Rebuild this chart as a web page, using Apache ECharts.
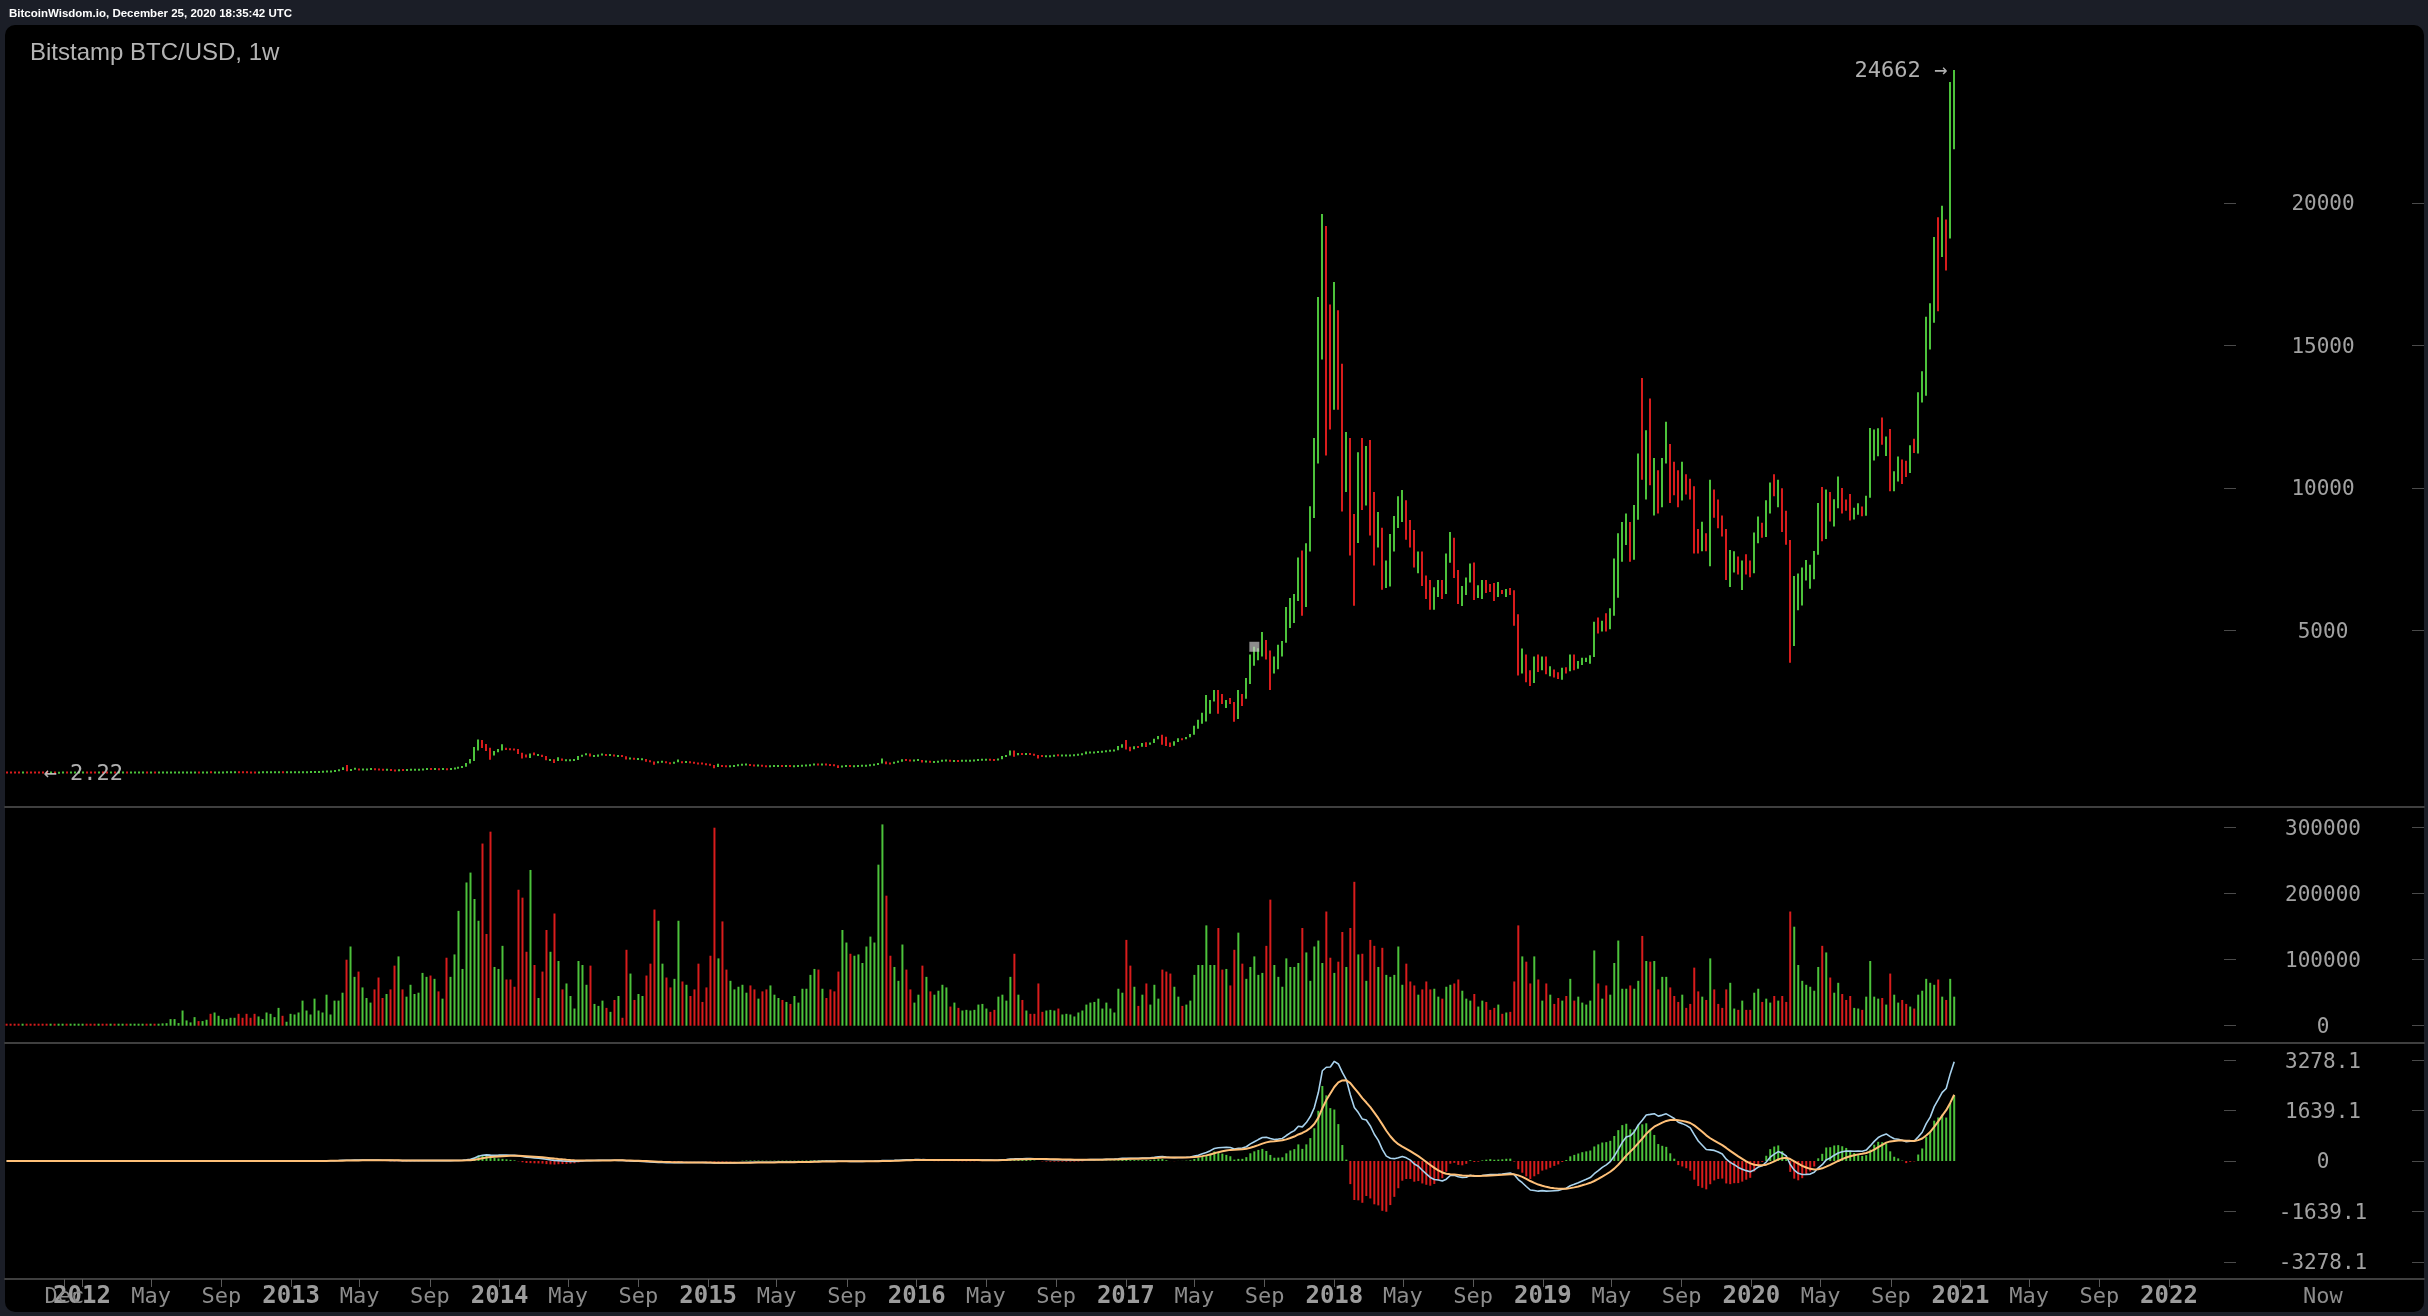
<!DOCTYPE html>
<html><head><meta charset="utf-8">
<style>html,body{margin:0;padding:0;background:#1b1e27;overflow:hidden}#chart{width:2428px;height:1316px}</style>
<script src="https://cdn.jsdelivr.net/npm/echarts@6.0.0/dist/echarts.min.js"></script>
</head><body><div id="chart"></div>
<script>
// ---------------- DATA (weekly candles, Bitstamp BTC/USD, week starts Monday) ----------------
const FIRST_WEEK = Date.UTC(2011, 7, 22);   // first candle: week of 2011-08-22
const FIRST_OPEN = 10.9;                    // open of the first candle; later opens = previous close

const close2011 = [8.6, 8.2, 6.9, 5.2, 5.4, 5.1, 4.7, 4.0, 3.3, 3.2, 3.0, 3.0, 2.4, 2.5, 3.1, 3.0, 3.2, 3.9, 5.2];
const high2011  = [11.4, 9.2, 8.3, 6.9, 6.0, 5.6, 5.2, 4.8, 4.1, 3.6, 3.6, 3.2, 3.0, 2.6, 3.2, 3.3, 3.3, 4.1, 5.3];
const low2011   = [7.3, 7.5, 6.5, 4.8, 4.9, 4.6, 4.4, 3.6, 2.22, 2.7, 2.9, 2.8, 2.3, 2.3, 2.5, 2.8, 3.0, 3.1, 3.8];
const vol2011   = [1.5, 1.2, 1.4, 1.8, 1.3, 1.1, 1.0, 1.3, 1.9, 1.5, 1.2, 1.0, 1.4, 1.2, 1.3, 1.1, 1.0, 1.4, 1.8];

const close2012 = [6.8, 6.4, 6.3, 5.6, 5.9, 5.6, 4.4, 5.0, 4.9, 4.9, 5.3, 4.7, 4.9, 4.9, 4.9, 5.2, 5.0, 5.1, 5.0, 5.1, 5.1, 5.2, 5.5, 6.4, 6.5, 6.7, 6.8, 7.6, 8.9, 8.7, 10.9, 11.4, 8.8, 10.5, 10.6, 11.0, 11.7, 12.3, 12.4, 12.0, 11.9, 11.8, 11.0, 10.8, 10.9, 11.5, 12.3, 12.5, 13.4, 13.6, 13.4, 13.4, 13.5];
const high2012  = [7.2, 7.0, 7.0, 6.4, 6.2, 6.0, 5.6, 5.1, 5.0, 5.1, 5.4, 5.3, 4.9, 5.0, 5.0, 5.3, 5.2, 5.2, 5.1, 5.2, 5.2, 5.3, 5.6, 6.5, 6.8, 6.8, 7.0, 7.8, 9.2, 9.2, 11.0, 11.9, 15.4, 10.9, 11.0, 11.2, 11.9, 12.9, 12.6, 12.9, 12.2, 12.0, 11.9, 11.2, 11.0, 11.9, 12.4, 12.9, 13.6, 13.8, 13.6, 13.6, 13.8];
const low2012   = [5.0, 6.0, 5.8, 5.4, 5.5, 5.4, 4.0, 4.3, 4.7, 4.8, 4.8, 4.6, 4.7, 4.8, 4.8, 4.9, 4.9, 5.0, 4.9, 5.0, 5.0, 5.1, 5.2, 5.5, 6.2, 6.3, 6.5, 6.8, 7.5, 8.2, 8.7, 10.7, 7.9, 8.5, 10.0, 10.4, 10.9, 11.5, 12.0, 11.8, 11.3, 11.6, 10.6, 10.5, 10.6, 10.8, 11.5, 12.2, 12.4, 13.3, 13.2, 13.2, 13.2];
const vol2012   = [1.5, 1.8, 1.6, 1.5, 1.4, 1.6, 2.4, 1.9, 1.7, 1.5, 1.6, 1.8, 1.5, 1.7, 2.0, 2.2, 2.5, 2.3, 2.8, 3.0, 3.5, 3.8, 10, 10, 4, 23, 8, 5, 13, 7, 7, 9, 18, 20, 15, 10, 10, 12, 12, 18, 12, 18, 12, 18, 14, 10, 20, 18, 13, 27, 15, 6, 18];

const close2013 = [14.1, 15.4, 17.2, 20.4, 23.6, 26.8, 30.4, 34.5, 46.0, 46.9, 70, 93, 162, 90, 119, 136, 114, 117, 122, 129, 122, 109, 100, 104, 90, 76, 97, 91, 96, 105, 106, 106, 121, 129, 124, 127, 123, 127, 123, 128, 149, 187, 211, 334, 418, 790, 1120, 960, 875, 625, 735, 780];
const high2013  = [14.3, 15.9, 17.8, 20.8, 24.0, 27.5, 30.5, 34.9, 48.0, 48.4, 74, 96, 194, 266, 128, 165, 139, 125, 125, 134, 133, 124, 111, 111, 106, 91, 99, 98, 98, 107, 108, 110, 123, 135, 135, 129, 129, 132, 138, 131, 160, 200, 215, 340, 478, 900, 1163, 1150, 1010, 880, 760, 830];
const low2013   = [13.3, 14.0, 15.2, 17.0, 20.2, 23.4, 26.5, 29.0, 34.0, 37.0, 46, 71, 93, 50, 62, 115, 79, 107, 108, 119, 114, 99, 95, 97, 87, 65, 69, 86, 88, 95, 100, 97, 106, 117, 118, 122, 121, 122, 110, 122, 128, 148, 180, 210, 322, 410, 780, 870, 760, 455, 600, 720];
const vol2013   = [17, 20, 38, 23, 17, 41, 23, 20, 47, 17, 38, 38, 50, 100, 120, 74, 82, 58, 42, 35, 55, 73, 42, 48, 55, 91, 105, 55, 44, 62, 48, 50, 80, 74, 76, 71, 52, 41, 103, 74, 108, 174, 86, 217, 232, 192, 159, 276, 139, 294, 89, 86];

const close2014 = [840, 830, 820, 810, 680, 620, 580, 660, 630, 630, 580, 450, 450, 420, 490, 440, 440, 440, 445, 580, 630, 650, 590, 600, 630, 630, 620, 620, 590, 590, 580, 500, 510, 480, 480, 480, 400, 380, 330, 360, 390, 350, 330, 370, 380, 375, 378, 350, 345, 320, 318, 280];
const high2014  = [1000, 880, 850, 840, 830, 700, 640, 670, 710, 650, 630, 590, 480, 470, 540, 500, 460, 450, 460, 590, 630, 670, 670, 610, 640, 650, 640, 630, 625, 600, 595, 580, 530, 515, 490, 490, 480, 440, 390, 400, 400, 395, 360, 380, 460, 395, 385, 385, 360, 345, 335, 320];
const low2014   = [780, 800, 790, 780, 660, 500, 530, 520, 610, 600, 550, 440, 420, 340, 410, 420, 420, 420, 430, 445, 560, 620, 570, 560, 560, 620, 610, 610, 580, 570, 575, 460, 470, 470, 470, 460, 380, 370, 280, 330, 370, 345, 310, 320, 370, 345, 360, 345, 340, 300, 310, 270];
const vol2014   = [121, 70, 70, 59, 206, 194, 112, 236, 92, 42, 82, 145, 112, 170, 98, 55, 64, 45, 26, 98, 92, 62, 91, 33, 30, 38, 27, 21, 39, 45, 12, 115, 79, 39, 48, 45, 76, 94, 176, 159, 94, 73, 58, 71, 159, 67, 62, 45, 55, 94, 36, 58];

const close2015 = [265, 205, 255, 225, 220, 235, 240, 260, 285, 285, 260, 245, 255, 225, 222, 225, 240, 240, 236, 238, 225, 230, 235, 245, 255, 270, 290, 275, 290, 285, 265, 258, 230, 230, 240, 230, 230, 235, 240, 245, 265, 285, 325, 380, 330, 325, 360, 390, 460, 440, 420, 430];
const high2015  = [300, 270, 310, 265, 245, 240, 245, 285, 300, 298, 290, 272, 265, 260, 230, 238, 245, 245, 245, 242, 240, 232, 238, 255, 260, 275, 305, 300, 298, 295, 285, 270, 260, 235, 245, 245, 236, 238, 245, 250, 270, 290, 335, 500, 390, 340, 375, 420, 470, 470, 450, 440];
const low2015   = [260, 152, 200, 210, 210, 215, 230, 235, 260, 280, 255, 235, 240, 220, 215, 220, 220, 230, 232, 232, 222, 220, 226, 230, 240, 250, 265, 270, 270, 280, 260, 255, 162, 200, 225, 225, 225, 225, 235, 240, 245, 265, 280, 320, 300, 310, 315, 355, 385, 430, 410, 410];
const vol2015   = [106, 300, 102, 158, 85, 68, 55, 59, 62, 50, 61, 55, 41, 52, 55, 61, 47, 42, 39, 36, 33, 45, 35, 56, 56, 77, 86, 85, 56, 42, 55, 52, 82, 145, 126, 109, 106, 108, 95, 120, 135, 126, 244, 305, 197, 106, 89, 68, 123, 85, 55, 35];

const close2016 = [450, 380, 400, 375, 375, 400, 435, 435, 415, 415, 410, 415, 420, 420, 430, 450, 450, 460, 455, 440, 475, 580, 610, 760, 640, 670, 650, 665, 655, 620, 590, 570, 580, 580, 610, 605, 605, 605, 610, 615, 640, 655, 700, 705, 705, 730, 735, 765, 775, 790, 890, 1000];
const high2016  = [460, 450, 410, 400, 385, 405, 445, 440, 440, 420, 420, 420, 425, 425, 435, 460, 470, 465, 460, 460, 480, 590, 620, 780, 780, 690, 690, 670, 670, 660, 620, 600, 590, 590, 615, 630, 610, 610, 612, 620, 645, 660, 740, 740, 730, 750, 745, 775, 780, 795, 935, 1000];
const low2016   = [425, 360, 370, 365, 365, 370, 400, 415, 400, 405, 405, 410, 410, 415, 420, 425, 445, 445, 445, 435, 440, 470, 560, 600, 560, 610, 630, 640, 640, 600, 500, 565, 565, 570, 570, 600, 600, 590, 600, 605, 610, 630, 650, 680, 690, 700, 720, 730, 755, 765, 790, 880];
const vol2016   = [47, 91, 74, 52, 47, 53, 62, 58, 29, 35, 27, 23, 24, 23, 24, 32, 33, 26, 21, 24, 44, 47, 38, 74, 109, 47, 39, 23, 18, 18, 64, 21, 23, 24, 23, 26, 17, 18, 17, 14, 20, 23, 32, 35, 36, 41, 26, 35, 26, 20, 56, 50];

const close2017 = [905, 830, 920, 915, 1010, 995, 1050, 1180, 1250, 1230, 970, 960, 1090, 1180, 1175, 1240, 1330, 1630, 1720, 2050, 2150, 2500, 2880, 2500, 2450, 2500, 2480, 1950, 2750, 2730, 3230, 4050, 4100, 4350, 4600, 4150, 3700, 3780, 4400, 4600, 5700, 6000, 6140, 7400, 5850, 8000, 9250, 11200, 14700, 19100, 14000, 13400];
const high2017  = [1150, 910, 930, 925, 1040, 1070, 1060, 1190, 1290, 1330, 1260, 1060, 1100, 1210, 1200, 1250, 1360, 1650, 1860, 2100, 2725, 2550, 2900, 2900, 2760, 2550, 2620, 2480, 2900, 2760, 3320, 4150, 4420, 4370, 4940, 4660, 4290, 4080, 4495, 4620, 5815, 6130, 6270, 7550, 7800, 8050, 9350, 11750, 16700, 19613, 19190, 16430];
const low2017   = [810, 750, 820, 880, 910, 900, 980, 1040, 1170, 980, 940, 900, 950, 1080, 1150, 1170, 1240, 1330, 1540, 1720, 1800, 2065, 2500, 2065, 2410, 2275, 2410, 1790, 1885, 2345, 2595, 3115, 3755, 3950, 4080, 3970, 2900, 3480, 3635, 4080, 4565, 5075, 5255, 6025, 5510, 5815, 7760, 8940, 10850, 14500, 11130, 12045];
const vol2017   = [130, 91, 59, 30, 47, 64, 32, 62, 41, 85, 82, 79, 59, 44, 30, 32, 38, 77, 92, 92, 152, 92, 92, 148, 85, 86, 61, 115, 141, 94, 71, 89, 105, 77, 80, 121, 191, 92, 74, 59, 102, 89, 89, 95, 148, 111, 68, 120, 129, 95, 173, 103];

const close2018 = [16100, 13650, 11500, 11700, 8200, 8100, 10380, 9600, 11450, 9550, 8200, 8500, 6900, 7030, 8350, 8900, 9400, 9650, 8700, 8240, 7350, 7700, 6750, 6500, 6150, 6390, 6750, 6350, 7400, 8200, 7040, 6300, 6400, 6720, 7290, 6220, 6490, 6700, 6600, 6580, 6290, 6400, 6380, 6430, 6350, 5550, 4000, 4150, 3550, 3200, 3950, 3750];
const high2018  = [17220, 16230, 14350, 11960, 11750, 9080, 11250, 11750, 11470, 11680, 9850, 9150, 8600, 7450, 8380, 9010, 9700, 9920, 9560, 8870, 8520, 7760, 7760, 6925, 6760, 6510, 6760, 6760, 7690, 8445, 8245, 7115, 6550, 6855, 7340, 7380, 6580, 6760, 6760, 6620, 6655, 6690, 6410, 6445, 6480, 6400, 5560, 4355, 4150, 3600, 4080, 4150];
const low2018   = [12740, 12740, 9170, 9850, 7620, 5860, 8060, 9220, 9380, 8325, 7270, 7900, 6425, 6480, 6535, 7760, 8590, 8800, 8175, 7900, 7200, 7000, 6550, 6095, 5720, 5720, 6165, 6095, 6270, 7365, 6835, 5925, 5855, 6235, 6675, 6060, 6130, 6095, 6305, 6340, 6025, 6165, 6270, 6165, 6235, 5160, 3415, 3480, 3175, 3045, 3150, 3535];
const vol2018   = [80, 97, 142, 89, 148, 218, 108, 109, 68, 130, 121, 89, 118, 77, 74, 77, 120, 62, 94, 67, 61, 47, 55, 67, 55, 56, 44, 41, 59, 62, 64, 70, 53, 41, 38, 48, 29, 38, 36, 24, 27, 32, 18, 20, 21, 67, 152, 105, 97, 64, 105, 70];

const close2019 = [4040, 3510, 3540, 3530, 3410, 3630, 3600, 4100, 3820, 3900, 3990, 4000, 4100, 5050, 5030, 5300, 5280, 5750, 6990, 8000, 8750, 8770, 7650, 8980, 10700, 10600, 11400, 10200, 10500, 9500, 10900, 11300, 10200, 10150, 9600, 10400, 10300, 10000, 8200, 7900, 8300, 7960, 9250, 9200, 8800, 8500, 7050, 7400, 7500, 7100, 7200, 7180];
const high2019  = [4080, 4080, 3740, 3620, 3530, 3680, 3700, 4150, 4150, 3920, 4035, 4035, 4120, 5300, 5450, 5330, 5600, 5775, 7520, 8405, 8800, 9100, 8800, 9400, 11200, 13855, 12020, 13130, 11045, 10620, 11045, 12320, 11540, 10915, 10620, 10915, 10475, 10320, 10050, 8555, 8805, 8405, 10280, 9940, 9585, 9025, 8550, 7815, 7770, 7590, 7445, 7665];
const low2019   = [3600, 3455, 3385, 3345, 3290, 3265, 3480, 3560, 3600, 3650, 3780, 3885, 3825, 4060, 4890, 4960, 4960, 5035, 5510, 6145, 7400, 7990, 7400, 7475, 8880, 10280, 9585, 10090, 9025, 9100, 9320, 10850, 9465, 9735, 9320, 9550, 9765, 9585, 7695, 7695, 7770, 7770, 7250, 8950, 8580, 8290, 6765, 6515, 7030, 6955, 6415, 6955];
const vol2019   = [38, 64, 47, 33, 42, 38, 45, 71, 38, 44, 35, 32, 38, 114, 64, 41, 61, 47, 95, 129, 56, 56, 61, 56, 68, 136, 98, 97, 98, 55, 74, 74, 58, 45, 36, 47, 27, 33, 88, 52, 44, 39, 102, 55, 33, 27, 55, 65, 26, 24, 38, 24];

const close2020 = [7100, 8180, 8700, 8330, 9380, 10150, 9900, 9960, 8530, 8030, 5360, 5830, 6250, 6780, 7100, 7120, 7700, 8900, 8720, 9680, 8900, 9450, 9470, 9340, 9300, 9040, 9070, 9230, 9160, 9700, 11100, 11680, 11900, 11650, 11700, 10250, 10330, 10930, 10770, 10570, 11370, 11360, 13120, 13760, 15960, 16000, 18400, 18180, 19150, 18800, 23800, 24450];
const high2020  = [7445, 8430, 8990, 8770, 9560, 10190, 10475, 10280, 9985, 9190, 8170, 6900, 6990, 7200, 7470, 7300, 7780, 9470, 10030, 9940, 9850, 9600, 10400, 9990, 9590, 9780, 9300, 9460, 9340, 9720, 12100, 12050, 12090, 12470, 11800, 12060, 10580, 11100, 10990, 10950, 11490, 11720, 13350, 14090, 16000, 16480, 18800, 19500, 19900, 19420, 24240, 24662];
const low2020   = [6860, 7000, 8050, 8250, 8270, 9100, 9700, 9320, 8450, 8000, 3855, 4450, 5700, 5870, 6750, 6460, 6790, 7650, 8120, 8200, 8820, 8640, 9280, 9100, 9190, 8850, 8890, 9050, 9000, 9020, 9650, 10960, 11110, 11510, 11120, 9880, 9880, 10220, 10130, 10380, 10520, 11220, 11200, 12990, 13230, 14850, 15790, 16200, 18100, 17630, 18750, 21880];
const vol2020   = [24, 50, 56, 36, 41, 35, 45, 38, 45, 36, 173, 150, 92, 68, 62, 59, 53, 89, 121, 111, 73, 50, 65, 48, 39, 45, 27, 26, 24, 44, 98, 44, 41, 42, 32, 79, 47, 35, 39, 33, 29, 26, 47, 53, 71, 65, 62, 70, 44, 39, 71, 44];

const VOL_UNIT = 1000;               // volume arrays are in thousands of BTC
const MAIN_TICKS = [5000, 10000, 15000, 20000];
const VOL_TICKS = [0, 100000, 200000, 300000];
const MACD_TICKS = [-3278.1, -1639.1, 0, 1639.1, 3278.1];
const MARKER_WEEK = Date.UTC(2017, 7, 14);   // grey square marker week

// ---------------- assemble ----------------
const closes = [].concat(close2011, close2012, close2013, close2014, close2015, close2016, close2017, close2018, close2019, close2020);
const highs  = [].concat(high2011, high2012, high2013, high2014, high2015, high2016, high2017, high2018, high2019, high2020);
const lows   = [].concat(low2011, low2012, low2013, low2014, low2015, low2016, low2017, low2018, low2019, low2020);
const vols   = [].concat(vol2011, vol2012, vol2013, vol2014, vol2015, vol2016, vol2017, vol2018, vol2019, vol2020).map(v => v * VOL_UNIT);
if (!(closes.length === highs.length && highs.length === lows.length && lows.length === vols.length)) {
  throw new Error('length mismatch ' + [closes.length, highs.length, lows.length, vols.length].join(','));
}
const WEEK = 7 * 864e5;
const times = closes.map((_, i) => FIRST_WEEK + i * WEEK);
const opens = closes.map((_, i) => i === 0 ? FIRST_OPEN : closes[i - 1]);
const up = closes.map((c, i) => c >= opens[i]);

// MACD(12, 26, 9) of the weekly closes; histogram = 2 * (DIF - DEA)
function ema(arr, n) { const k = 2 / (n + 1); const out = []; let e = arr[0]; arr.forEach((v, i) => { e = i === 0 ? v : v * k + e * (1 - k); out.push(e); }); return out; }
const e12 = ema(closes, 12), e26 = ema(closes, 26);
const dif = closes.map((_, i) => e12[i] - e26[i]);
const dea = ema(dif, 9);
const hist = dif.map((d, i) => 2 * (d - dea[i]));

let maxIdx = 0, minIdx = 0;
highs.forEach((h, i) => { if (h > highs[maxIdx]) maxIdx = i; });
lows.forEach((l, i) => { if (l < lows[minIdx]) minIdx = i; });
const markIdx = times.indexOf(MARKER_WEEK);

// ---------------- layout ----------------
const GREEN = '#4cc23b', RED = '#d81c1c';
const MONO = "'DejaVu Sans Mono', monospace";
const SANS = "'Liberation Sans', Arial, sans-serif";
const DAY = 864e5, T2012 = Date.UTC(2012, 0, 1);
const X_MIN = T2012 - 134.78 * DAY, X_MAX = T2012 + 4099.3 * DAY;
const NOW_POS = T2012 + 3922.5 * DAY;
const DEC_POS = Date.UTC(2011, 11, 1);
const GL = 5, GW = 2419;

const xLabels = new Map();
for (let y = 2012; y <= 2022; y++) {
  xLabels.set(Date.UTC(y, 0, 1), '{y|' + y + '}');
  if (y <= 2021) { xLabels.set(Date.UTC(y, 4, 1), '{m|May}'); xLabels.set(Date.UTC(y, 8, 1), '{m|Sep}'); }
}
const tickVals = Array.from(xLabels.keys()).sort((a, b) => a - b);
xLabels.set(NOW_POS, '{m|Now}');
const labelVals = Array.from(xLabels.keys()).sort((a, b) => a - b);

const X_RICH = {
  m: { fontFamily: MONO, fontSize: 22, color: '#8c8c8c', lineHeight: 24 },
  y: { fontFamily: MONO, fontSize: 24, fontWeight: 'bold', color: '#9c9c9c', lineHeight: 24 }
};
function xAxisFor(gi, mode) {
  const ax = { type: 'value', gridIndex: gi, min: X_MIN, max: X_MAX, position: 'bottom', splitLine: { show: false } };
  if (mode === 'sep') {
    ax.axisLine = { show: true, onZero: false, lineStyle: { color: '#3f3f3f', width: 2 } };
    ax.axisTick = { show: false }; ax.axisLabel = { show: false };
  } else if (mode === 'main') {
    ax.axisLine = { show: true, onZero: false, lineStyle: { color: '#3f3f3f', width: 2 } };
    ax.axisTick = { show: true, customValues: tickVals, length: 8, lineStyle: { color: '#5a5a5a', width: 1 } };
    ax.axisLabel = { show: true, customValues: labelVals, margin: 6, hideOverlap: false, formatter: v => xLabels.get(v) || '', rich: X_RICH };
  } else { // 'dec': the overlapping "Dec" label drawn on its own axis
    ax.axisLine = { show: false, onZero: false };
    ax.axisTick = { show: true, customValues: [DEC_POS], length: 8, lineStyle: { color: '#5a5a5a', width: 1 } };
    ax.axisLabel = { show: true, customValues: [DEC_POS], margin: 6, formatter: () => '{m|Dec}', rich: X_RICH };
  }
  return ax;
}
function yAxesFor(gi, min, max, vals, fmt) {
  const tick = { show: true, inside: true, length: 12, customValues: vals, lineStyle: { color: '#4a4a4a', width: 1 } };
  return [{
    type: 'value', gridIndex: gi, min, max, position: 'right',
    axisLine: { show: false }, axisTick: tick, splitLine: { show: false },
    axisLabel: { show: true, inside: true, margin: 101, align: 'center', verticalAlign: 'middle',
      showMinLabel: true, showMaxLabel: true, hideOverlap: false,
      customValues: vals, formatter: v => '{a|' + fmt(v) + '}',
      rich: { a: { color: '#a2a2a2', fontFamily: MONO, fontSize: 21, lineHeight: 22, padding: [4, 0, 0, 0] } } }
  }, {
    type: 'value', gridIndex: gi, min, max, position: 'right', offset: -188,
    axisLine: { show: false }, axisTick: tick, splitLine: { show: false }, axisLabel: { show: false }
  }];
}

const candleData = times.map((t, i) => [t, opens[i], closes[i], lows[i], highs[i]]);
const MARK_RICH = { a: { color: '#dcdcdc', fontFamily: MONO, fontSize: 22, lineHeight: 22, padding: [3, 0, 0, 0] } };

const option = {
  backgroundColor: '#1b1e27',
  animation: false,
  title: [
    { text: 'BitcoinWisdom.io, December 25, 2020 18:35:42 UTC', left: 9, top: 8, padding: 0,
      textStyle: { color: '#ffffff', fontSize: 11.5, fontWeight: 'bold', fontFamily: SANS } },
    { text: 'Bitstamp BTC/USD, 1w', left: 30, top: 41, padding: 0,
      textStyle: { color: '#b4b4b4', fontSize: 24, fontWeight: 'normal', fontFamily: SANS } }
  ],
  graphic: [{ type: 'rect', z: -10, silent: true, shape: { x: 5, y: 25, width: 2419, height: 1287, r: 10 }, style: { fill: '#000000' } }],
  grid: [
    { left: GL, width: GW, top: 25, height: 782, outerBoundsMode: 'none' },
    { left: GL, width: GW, top: 807, height: 236, outerBoundsMode: 'none' },
    { left: GL, width: GW, top: 1043, height: 236, outerBoundsMode: 'none' }
  ],
  xAxis: [xAxisFor(0, 'sep'), xAxisFor(1, 'sep'), xAxisFor(2, 'main'), xAxisFor(2, 'dec')],
  yAxis: [].concat(
    yAxesFor(0, -1204, 26244, MAIN_TICKS, v => String(v)),
    yAxesFor(1, -26212, 331364, VOL_TICKS, v => String(v)),
    yAxesFor(2, -3838, 3838, MACD_TICKS, v => v === 0 ? '0' : v.toFixed(1))
  ),
  series: [
    {
      type: 'custom', name: 'candles', xAxisIndex: 0, yAxisIndex: 0, data: candleData,
      encode: { x: 0, y: [3, 4] }, clip: true,
      renderItem(params, api) {
        const t = api.value(0), o = api.value(1), c = api.value(2), l = api.value(3), h = api.value(4);
        const pH = api.coord([t, h]), pL = api.coord([t, l]);
        let top = pH[1], bot = pL[1];
        if (bot - top < 2) { const m = (top + bot) / 2; top = m - 1; bot = m + 1; }
        const x = Math.round(pH[0]) - 1;
        return { type: 'rect', shape: { x, y: top, width: 2, height: bot - top }, style: { fill: c >= o ? GREEN : RED } };
      }
    },
    {
      type: 'scatter', name: 'labels', xAxisIndex: 0, yAxisIndex: 0, z: 6, silent: true,
      data: [
        { value: [times[maxIdx], highs[maxIdx]], symbolSize: 0,
          label: { show: true, position: 'left', distance: 7, formatter: '{a|' + String(highs[maxIdx]) + ' \u2192}', rich: MARK_RICH } },
        { value: [times[minIdx], lows[minIdx]], symbolSize: 0,
          label: { show: true, position: 'right', distance: 5, formatter: '{a|\u2190 ' + String(lows[minIdx]) + '}', rich: MARK_RICH } },
        { value: [times[markIdx], highs[markIdx]], symbol: 'rect', symbolSize: 10,
          itemStyle: { color: 'rgba(205,205,205,0.85)' }, label: { show: false } }
      ]
    },
    {
      type: 'bar', name: 'volume', xAxisIndex: 1, yAxisIndex: 2, barWidth: 2, barMinHeight: 2,
      data: times.map((t, i) => [t, vols[i]]),
      itemStyle: { color: p => up[p.dataIndex] ? GREEN : RED }
    },
    {
      type: 'bar', name: 'hist', xAxisIndex: 2, yAxisIndex: 4, barWidth: 2,
      data: times.map((t, i) => [t, hist[i]]),
      itemStyle: { color: p => hist[p.dataIndex] >= 0 ? GREEN : RED }
    },
    {
      type: 'line', name: 'DIF', xAxisIndex: 2, yAxisIndex: 4, showSymbol: false, symbol: 'none',
      data: times.map((t, i) => [t, dif[i]]), lineStyle: { color: '#a9d3ee', width: 1.6 }, z: 4
    },
    {
      type: 'line', name: 'DEA', xAxisIndex: 2, yAxisIndex: 4, showSymbol: false, symbol: 'none',
      data: times.map((t, i) => [t, dea[i]]), lineStyle: { color: '#ffc078', width: 2 }, z: 5
    }
  ]
};

const chart = echarts.init(document.getElementById('chart'), null, { renderer: 'canvas' });
chart.setOption(option);
</script></body></html>
